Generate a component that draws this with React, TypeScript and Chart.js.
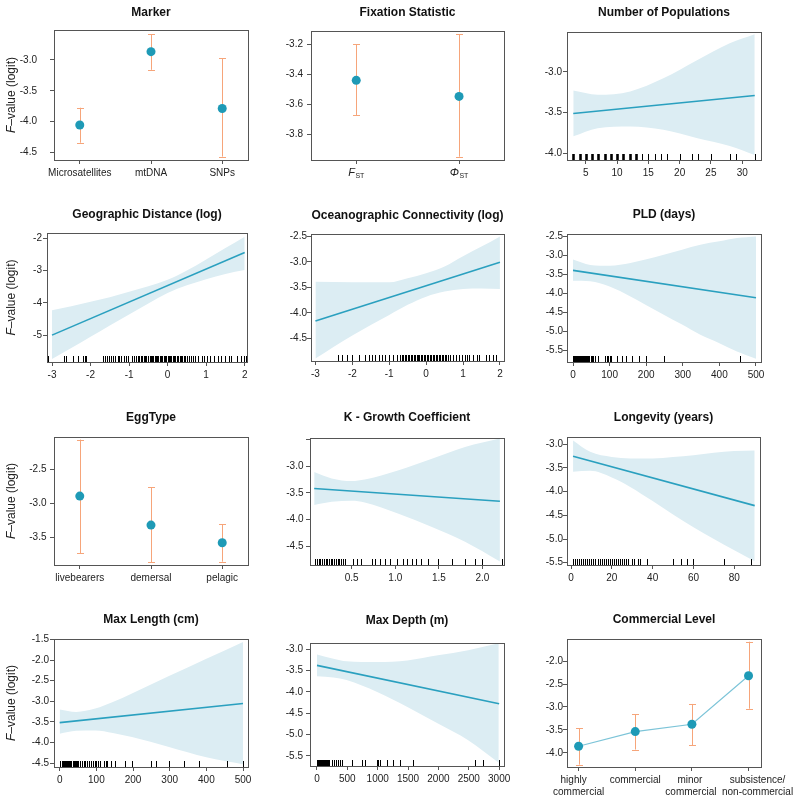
import React, { useEffect, useRef } from 'react';
import { Chart, registerables } from 'chart.js';

Chart.register(...registerables);

const FONT = '"Liberation Sans", Arial, Helvetica, sans-serif';
const BAND = '#dcedf3';
const LINE = '#2aa0bf';
const POINT = '#1e9ab6';
const CONNECT = '#7cc4d8';
const ERR = '#f6a57a';
const AXIS = '#555555';
const TEXT = '#222222';

// ---- Marker ----
const markerCats = ['Microsatellites', 'mtDNA', 'SNPs'];
const markerEst = [-4.053, -2.866, -3.786];
const markerLo = [-4.34, -3.16, -4.565];
const markerHi = [-3.773, -2.584, -2.97];

// ---- Fixation Statistic ----
const fixMain = ['F', 'Φ'];
const fixSub = ['ST', 'ST'];
const fixEst = [-3.44, -3.547];
const fixLo = [-3.673, -3.949];
const fixHi = [-3.2, -3.131];

// ---- Number of Populations ----
const popBandX = [3, 6.9, 12.1, 17.4, 22.7, 28, 32];
const popUpper = [-3.23, -3.28, -3.24, -3.08, -2.86, -2.65, -2.54];
const popLower = [-3.79, -3.69, -3.67, -3.71, -3.81, -3.91, -4.02];
const popLineX = [3, 32];
const popLineY = [-3.51, -3.29];
const popRug = [3, 3, 3, 4, 4, 4, 5, 5, 5, 6, 6, 6, 7, 7, 7, 8, 8, 8, 9, 9, 9, 10, 10, 10, 11, 11, 11, 12, 12, 12, 13, 13, 13, 14, 15, 16, 17, 18, 20, 22, 23, 25, 28, 29, 32];

// ---- Geographic Distance ----
const geoBandX = [-3, -2.5, -2, -1.5, -1, -0.5, 0, 0.5, 1, 1.5, 2];
const geoUpper = [-4.23, -4.11, -3.97, -3.83, -3.66, -3.49, -3.29, -3.0, -2.66, -2.31, -1.96];
const geoLower = [-5.74, -5.4, -5.05, -4.7, -4.36, -4.02, -3.7, -3.46, -3.27, -3.11, -2.99];
const geoLineX = [-3, 2];
const geoLineY = [-5.0, -2.45];
const geoRug = [-3.1, -2.7, -2.63, -2.46, -2.33, -2.19, -2.15, -2.12, -1.68, -1.62, -1.57, -1.52, -1.48, -1.43, -1.37, -1.3, -1.25, -1.2, -1.14, -1.08, -1.02, -0.92, -0.86, -0.82, -0.78, -0.74, -0.7, -0.66, -0.62, -0.58, -0.55, -0.51, -0.47, -0.44, -0.4, -0.37, -0.33, -0.3, -0.27, -0.24, -0.2, -0.17, -0.14, -0.1, -0.07, -0.04, 0, 0.03, 0.06, 0.1, 0.13, 0.17, 0.2, 0.24, 0.27, 0.31, 0.35, 0.38, 0.42, 0.46, 0.5, 0.55, 0.6, 0.66, 0.72, 0.8, 0.88, 0.95, 1.02, 1.1, 1.2, 1.3, 1.38, 1.5, 1.58, 1.65, 1.8, 1.9, 1.98, 2.03];

// ---- Oceanographic Connectivity ----
const ocBandX = [-3, -2, -1, -0.5, 0, 0.5, 1, 1.5, 2];
const ocUpper = [-3.39, -3.4, -3.4, -3.32, -3.22, -3.09, -2.89, -2.7, -2.5];
const ocLower = [-4.89, -4.44, -4.04, -3.84, -3.68, -3.58, -3.53, -3.52, -3.53];
const ocLineX = [-3, 2];
const ocLineY = [-4.157, -3.008];
const ocRug = [-2.39, -2.28, -2.15, -2.01, -1.83, -1.65, -1.56, -1.47, -1.38, -1.29, -1.2, -1.11, -1.0, -0.89, -0.8, -0.71, -0.66, -0.62, -0.58, -0.54, -0.5, -0.46, -0.42, -0.38, -0.34, -0.3, -0.26, -0.22, -0.18, -0.14, -0.1, -0.06, -0.02, 0.02, 0.06, 0.1, 0.14, 0.18, 0.22, 0.26, 0.3, 0.34, 0.38, 0.42, 0.46, 0.5, 0.54, 0.6, 0.66, 0.72, 0.8, 0.88, 0.96, 1.05, 1.12, 1.17, 1.26, 1.39, 1.44, 1.62, 1.71, 1.8, 1.9];

// ---- PLD ----
const pldBandX = [0, 47, 100, 157, 198, 248, 298, 348, 400, 448, 500];
const pldUpper = [-3.11, -3.25, -3.27, -3.2, -3.11, -2.98, -2.85, -2.72, -2.63, -2.54, -2.5];
const pldLower = [-3.67, -3.68, -3.82, -4.08, -4.3, -4.56, -4.82, -5.09, -5.31, -5.53, -5.72];
const pldLineX = [0, 500];
const pldLineY = [-3.395, -4.113];
const pldRug = [0, 1, 2, 3, 4, 5, 6, 7, 8, 10, 12, 14, 15, 17, 20, 21, 24, 25, 28, 30, 32, 35, 38, 40, 42, 45, 48, 52, 56, 60, 67, 88, 92, 95, 100, 105, 120, 135, 145, 160, 180, 200, 250, 455];

// ---- EggType ----
const eggCats = ['livebearers', 'demersal', 'pelagic'];
const eggEst = [-2.895, -3.32, -3.579];
const eggLo = [-3.734, -3.865, -3.856];
const eggHi = [-2.066, -2.768, -3.304];

// ---- K - Growth Coefficient ----
const kBandX = [0.07, 0.27, 0.5, 0.65, 1.03, 1.42, 1.8, 2.2];
const kUpper = [-3.11, -3.23, -3.28, -3.25, -3.08, -2.86, -2.64, -2.48];
const kLower = [-3.73, -3.67, -3.65, -3.68, -3.89, -4.14, -4.42, -4.79];
const kLineX = [0.07, 2.2];
const kLineY = [-3.418, -3.657];
const kRug = [0.08, 0.1, 0.12, 0.14, 0.16, 0.18, 0.2, 0.22, 0.24, 0.26, 0.28, 0.3, 0.32, 0.34, 0.36, 0.38, 0.4, 0.42, 0.51, 0.56, 0.61, 0.73, 0.77, 0.82, 0.88, 0.94, 1.02, 1.09, 1.13, 1.19, 1.24, 1.3, 1.38, 1.49, 1.65, 1.8, 1.91, 2.0, 2.22];

// ---- Longevity ----
const lonBandX = [1, 9.4, 20, 29, 40, 50, 60, 70, 80, 90];
const lonUpper = [-2.92, -3.16, -3.27, -3.3, -3.3, -3.27, -3.23, -3.18, -3.14, -3.13];
const lonLower = [-3.58, -3.56, -3.7, -3.9, -4.2, -4.48, -4.75, -5.0, -5.24, -5.47];
const lonLineX = [1, 90];
const lonLineY = [-3.253, -4.295];
const lonRug = [1, 2, 3, 4, 5, 6, 7, 8, 9, 10, 11, 12, 13, 14, 15, 16, 17, 18, 19, 20, 21, 22, 23, 24, 25, 26, 27, 28, 30, 31, 33, 34, 37, 50, 54, 57, 60, 75, 88];

// ---- Max Length ----
const mlBandX = [0, 45, 97, 145, 197, 298, 400, 500];
const mlUpper = [-3.2, -3.26, -3.18, -3.02, -2.81, -2.39, -1.97, -1.56];
const mlLower = [-3.79, -3.72, -3.71, -3.77, -3.87, -4.11, -4.36, -4.53];
const mlLineX = [0, 500];
const mlLineY = [-3.52, -3.057];
const mlRug = [2, 5, 8, 10, 12, 15, 18, 20, 22, 25, 28, 30, 32, 35, 38, 40, 42, 45, 48, 50, 55, 60, 65, 70, 75, 80, 85, 90, 95, 100, 105, 110, 120, 125, 130, 140, 150, 177, 197, 248, 264, 298, 339, 380, 457, 500];

// ---- Max Depth ----
const mdBandX = [0, 271, 487, 991, 1489, 1992, 2490, 2994];
const mdUpper = [-3.12, -3.22, -3.28, -3.3, -3.26, -3.14, -3.02, -2.86];
const mdLower = [-3.63, -3.66, -3.72, -4.0, -4.35, -4.74, -5.13, -5.66];
const mdLineX = [0, 3000];
const mdLineY = [-3.376, -4.275];
const mdRug = [0, 10, 20, 30, 40, 50, 60, 70, 80, 90, 100, 110, 120, 130, 140, 150, 160, 180, 200, 241, 274, 318, 351, 384, 420, 581, 735, 789, 982, 1000, 1036, 1146, 1255, 1365, 1584, 2599, 2735, 2999];

// ---- Commercial Level ----
const comCats: string[][] = [['highly', 'commercial'], ['commercial'], ['minor', 'commercial'], ['subsistence/', 'non-commercial']];
const comEst = [-3.854, -3.536, -3.376, -2.32];
const comLo = [-4.254, -3.926, -3.83, -3.037];
const comHi = [-3.463, -3.153, -2.934, -1.579];
// horizontal shift of each label line (px), as placed in the original figure
const comLabelShift = [[-5, 0], [0], [-2, -1], [9, 9]];

type Spec = {
  title: string;
  box: [number, number, number, number];
  titleY: number;
  col0?: boolean;
  padR?: number;
  yMin: number; yMax: number; yTicks: number[]; yDec: number; yPad: number; yNoLabel?: number[];
  xMin: number; xMax: number; xTicks: number[]; xDec?: number; xLabels?: string[];
  fixLabels?: boolean;
  multiLabels?: { lines: string[][]; shift: number[][] };
  band?: { x: number[]; hi: number[]; lo: number[] };
  line?: { x: number[]; y: number[] };
  rug?: number[];
  points?: { est: number[]; lo: number[]; hi: number[] };
  connect?: boolean;
};

const specs: Spec[] = [
  { title: 'Marker', box: [54, 30, 248, 160], titleY: 13, col0: true,
    yMin: -4.62, yMax: -2.515, yTicks: [-4.5, -4, -3.5, -3], yDec: 1, yPad: 13,
    xMin: 0.638, xMax: 3.362, xTicks: [1, 2, 3], xLabels: markerCats,
    points: { est: markerEst, lo: markerLo, hi: markerHi } },
  { title: 'Fixation Statistic', box: [311, 31, 504, 160], titleY: 13,
    yMin: -3.971, yMax: -3.111, yTicks: [-3.8, -3.6, -3.4, -3.2], yDec: 1, yPad: 4,
    xMin: 0.56, xMax: 2.437, xTicks: [1, 2], fixLabels: true,
    points: { est: fixEst, lo: fixLo, hi: fixHi } },
  { title: 'Number of Populations', box: [567, 32, 761, 160], titleY: 13,
    yMin: -4.08, yMax: -2.512, yTicks: [-4, -3.5, -3], yDec: 1, yPad: 1,
    xMin: 2.0, xMax: 33.0, xTicks: [5, 10, 15, 20, 25, 30], xDec: 0,
    band: { x: popBandX, hi: popUpper, lo: popLower }, line: { x: popLineX, y: popLineY }, rug: popRug },
  { title: 'Geographic Distance (log)', box: [47, 233, 247, 362], titleY: 215, col0: true,
    yMin: -5.83, yMax: -1.845, yTicks: [-5, -4, -3, -2], yDec: 0, yPad: 1,
    xMin: -3.13, xMax: 2.06, xTicks: [-3, -2, -1, 0, 1, 2], xDec: 0,
    band: { x: geoBandX, hi: geoUpper, lo: geoLower }, line: { x: geoLineX, y: geoLineY }, rug: geoRug },
  { title: 'Oceanographic Connectivity (log)', box: [311, 234, 504, 361], titleY: 216,
    yMin: -4.94, yMax: -2.453, yTicks: [-4.5, -4, -3.5, -3, -2.5], yDec: 1, yPad: 0,
    xMin: -3.12, xMax: 2.11, xTicks: [-3, -2, -1, 0, 1, 2], xDec: 0,
    band: { x: ocBandX, hi: ocUpper, lo: ocLower }, line: { x: ocLineX, y: ocLineY }, rug: ocRug },
  { title: 'PLD (days)', box: [567, 234, 761, 362], titleY: 215,
    yMin: -5.805, yMax: -2.437, yTicks: [-5.5, -5, -4.5, -4, -3.5, -3, -2.5], yDec: 1, yPad: 0,
    xMin: -16.4, xMax: 513.7, xTicks: [0, 100, 200, 300, 400, 500], xDec: 0,
    band: { x: pldBandX, hi: pldUpper, lo: pldLower }, line: { x: pldLineX, y: pldLineY }, rug: pldRug },
  { title: 'EggType', box: [54, 437, 248, 565], titleY: 418, col0: true,
    yMin: -3.905, yMax: -2.028, yTicks: [-3.5, -3, -2.5], yDec: 1, yPad: 3.5,
    xMin: 0.638, xMax: 3.362, xTicks: [1, 2, 3], xLabels: eggCats,
    points: { est: eggEst, lo: eggLo, hi: eggHi } },
  { title: 'K - Growth Coefficient', box: [310, 438, 504, 565], titleY: 418,
    yMin: -4.856, yMax: -2.47, yTicks: [-4.5, -4, -3.5, -3, -2.5], yNoLabel: [-2.5], yDec: 1, yPad: 2.5,
    xMin: 0.022, xMax: 2.247, xTicks: [0.5, 1, 1.5, 2], xDec: 1,
    band: { x: kBandX, hi: kUpper, lo: kLower }, line: { x: kLineX, y: kLineY }, rug: kRug },
  { title: 'Longevity (years)', box: [567, 437, 760, 565], titleY: 418,
    yMin: -5.549, yMax: -2.846, yTicks: [-5.5, -5, -4.5, -4, -3.5, -3], yDec: 1, yPad: 0,
    xMin: -1.96, xMax: 92.6, xTicks: [0, 20, 40, 60, 80], xDec: 0,
    band: { x: lonBandX, hi: lonUpper, lo: lonLower }, line: { x: lonLineX, y: lonLineY }, rug: lonRug },
  { title: 'Max Length (cm)', box: [54, 639, 248, 767], titleY: 620, col0: true,
    yMin: -4.597, yMax: -1.49, yTicks: [-4.5, -4, -3.5, -3, -2.5, -2, -1.5], yDec: 1, yPad: 1,
    xMin: -15.5, xMax: 513.6, xTicks: [0, 100, 200, 300, 400, 500], xDec: 0,
    band: { x: mlBandX, hi: mlUpper, lo: mlLower }, line: { x: mlLineX, y: mlLineY }, rug: mlRug },
  { title: 'Max Depth (m)', box: [310, 643, 504, 766], titleY: 621,
    yMin: -5.735, yMax: -2.852, yTicks: [-5.5, -5, -4.5, -4, -3.5, -3], yDec: 1, yPad: 3,
    xMin: -115, xMax: 3080, xTicks: [0, 500, 1000, 1500, 2000, 2500, 3000], xDec: 0,
    band: { x: mdBandX, hi: mdUpper, lo: mdLower }, line: { x: mdLineX, y: mdLineY }, rug: mdRug },
  { title: 'Commercial Level', box: [567, 639, 761, 767], titleY: 620, padR: 38,
    yMin: -4.306, yMax: -1.52, yTicks: [-4, -3.5, -3, -2.5, -2], yDec: 1, yPad: 0,
    xMin: 0.795, xMax: 4.22, xTicks: [1, 2, 3, 4],
    multiLabels: { lines: comCats, shift: comLabelShift },
    points: { est: comEst, lo: comLo, hi: comHi }, connect: true },
];

function pts(xs: number[], ys: number[]) {
  return xs.map((x, i) => ({ x, y: ys[i] }));
}

function makePlugin(p: Spec) {
  return {
    id: 'decor',
    beforeDatasetsDraw(chart: any) {
      if (!p.points) return;
      const { ctx, scales } = chart;
      const xs = scales.x, ys = scales.y;
      ctx.save();
      ctx.strokeStyle = ERR;
      ctx.lineWidth = 1;
      p.points.est.forEach((_, i) => {
        const x = Math.round(xs.getPixelForValue(i + 1)) + 0.5;
        const yl = ys.getPixelForValue(p.points!.lo[i]);
        const yh = ys.getPixelForValue(p.points!.hi[i]);
        ctx.beginPath();
        ctx.moveTo(x, yl); ctx.lineTo(x, yh);
        ctx.moveTo(x - 3.5, Math.round(yl) + 0.5); ctx.lineTo(x + 3.5, Math.round(yl) + 0.5);
        ctx.moveTo(x - 3.5, Math.round(yh) + 0.5); ctx.lineTo(x + 3.5, Math.round(yh) + 0.5);
        ctx.stroke();
      });
      ctx.restore();
    },
    afterDatasetsDraw(chart: any) {
      if (!p.rug) return;
      const { ctx, scales, chartArea } = chart;
      const counts = new Map<number, number>();
      p.rug.forEach((v) => counts.set(v, (counts.get(v) || 0) + 1));
      ctx.save();
      ctx.strokeStyle = '#000';
      counts.forEach((n, v) => {
        const x = Math.round(scales.x.getPixelForValue(v)) + 0.5;
        if (x < chartArea.left || x > chartArea.right) return;
        ctx.lineWidth = Math.min(1 + (n - 1) * 0.8, 2.6);
        ctx.beginPath();
        ctx.moveTo(x, chartArea.bottom);
        ctx.lineTo(x, chartArea.bottom - 6);
        ctx.stroke();
      });
      ctx.restore();
    },
    afterDraw(chart: any) {
      const { ctx, chartArea, scales } = chart;
      ctx.save();
      ctx.strokeStyle = AXIS;
      ctx.lineWidth = 1;
      ctx.strokeRect(Math.round(chartArea.left) + 0.5, Math.round(chartArea.top) + 0.5,
        Math.round(chartArea.right - chartArea.left), Math.round(chartArea.bottom - chartArea.top));
      ctx.fillStyle = TEXT;
      if (p.col0) {
        const cy = (chartArea.top + chartArea.bottom) / 2;
        ctx.translate(12, cy);
        ctx.rotate(-Math.PI / 2);
        ctx.textBaseline = 'middle';
        ctx.textAlign = 'left';
        const f1 = `italic 12px ${FONT}`;
        const f2 = `12px ${FONT}`;
        ctx.font = f1; const w1 = ctx.measureText('F').width;
        ctx.font = f2; const w2 = ctx.measureText('–value (logit)').width;
        const x0 = -(w1 + w2) / 2;
        ctx.font = f1; ctx.fillText('F', x0, 0);
        ctx.font = f2; ctx.fillText('–value (logit)', x0 + w1, 0);
        ctx.setTransform(1, 0, 0, 1, 0, 0);
      }
      if (p.fixLabels) {
        ctx.textBaseline = 'middle';
        ctx.textAlign = 'left';
        p.xTicks.forEach((v, i) => {
          const px = scales.x.getPixelForValue(v);
          const y = chartArea.bottom + 13;
          const fm = `italic 11px ${FONT}`;
          const fs = `7px ${FONT}`;
          ctx.font = fm; const wm = ctx.measureText(fixMain[i]).width;
          ctx.font = fs; const ws = ctx.measureText(fixSub[i]).width;
          const x0 = px - (wm + ws + 0.5) / 2;
          ctx.font = fm; ctx.fillText(fixMain[i], x0, y);
          ctx.font = fs; ctx.fillText(fixSub[i], x0 + wm + 0.5, y + 3);
        });
      }
      if (p.multiLabels) {
        ctx.textBaseline = 'middle';
        ctx.textAlign = 'center';
        ctx.font = `10px ${FONT}`;
        p.xTicks.forEach((v, i) => {
          const px = scales.x.getPixelForValue(v);
          p.multiLabels!.lines[i].forEach((s, j) => {
            ctx.fillText(s, px + (p.multiLabels!.shift[i][j] || 0), chartArea.bottom + 13 + j * 12.7);
          });
        });
      }
      ctx.restore();
    },
  };
}

function buildConfig(p: Spec, left: number, top: number, padR: number): any {
  const datasets: any[] = [];
  if (p.band) {
    datasets.push({ data: pts(p.band.x, p.band.hi), borderWidth: 0, borderColor: 'rgba(0,0,0,0)', pointRadius: 0, fill: false, cubicInterpolationMode: 'monotone', order: 5 });
    datasets.push({ data: pts(p.band.x, p.band.lo), borderWidth: 0, borderColor: 'rgba(0,0,0,0)', pointRadius: 0, fill: '-1', backgroundColor: BAND, cubicInterpolationMode: 'monotone', order: 5 });
  }
  if (p.line) {
    datasets.push({ data: pts(p.line.x, p.line.y), borderColor: LINE, borderWidth: 1.6, pointRadius: 0, fill: false, order: 0 });
  }
  if (p.points) {
    datasets.push({
      data: p.points.est.map((y, i) => ({ x: i + 1, y })),
      showLine: !!p.connect, borderColor: CONNECT, borderWidth: 1.2,
      pointRadius: 4.5, pointBackgroundColor: POINT, pointBorderColor: POINT, pointBorderWidth: 0,
      fill: false, order: 0,
    });
  }
  return {
    type: 'line',
    data: { datasets },
    plugins: [makePlugin(p)],
    options: {
      responsive: false,
      animation: false,
      devicePixelRatio: 1,
      events: [],
      layout: { padding: { left: 0, top: 0, right: padR, bottom: 0 } },
      plugins: {
        legend: { display: false },
        tooltip: { enabled: false },
        title: {
          display: true, text: p.title, fullSize: false, color: '#111',
          font: { size: 12, weight: 'bold', family: FONT, lineHeight: 1.2 },
          padding: { top: 2.8, bottom: p.box[1] - p.titleY - 7.2 },
        },
      },
      scales: {
        x: {
          type: 'linear', min: p.xMin, max: p.xMax,
          afterBuildTicks: (s: any) => { s.ticks = p.xTicks.map((v) => ({ value: v })); },
          afterFit: (s: any) => { s.height = 40; },
          ticks: {
            autoSkip: false, maxRotation: 0, minRotation: 0, padding: 3, color: TEXT,
            font: { size: 10, family: FONT, lineHeight: 1.2 },
            callback: (v: number) => {
              if (p.fixLabels || p.multiLabels) return '';
              if (p.xLabels) return p.xLabels[Math.round(v) - 1] ?? '';
              return Number(v).toFixed(p.xDec ?? 0);
            },
          },
          grid: { display: true, drawOnChartArea: false, drawTicks: true, tickLength: 4, color: AXIS, lineWidth: 1 },
          border: { display: false },
        },
        y: {
          type: 'linear', min: p.yMin, max: p.yMax,
          afterBuildTicks: (s: any) => { s.ticks = p.yTicks.map((v) => ({ value: v })); },
          afterFit: (s: any) => { s.width = p.box[0] - left; },
          ticks: {
            autoSkip: false, padding: p.yPad, color: TEXT,
            font: { size: 10, family: FONT },
            callback: (v: number) => (p.yNoLabel && p.yNoLabel.includes(v) ? '' : Number(v).toFixed(p.yDec)),
          },
          grid: { display: true, drawOnChartArea: false, drawTicks: true, tickLength: 4, color: AXIS, lineWidth: 1 },
          border: { display: false },
        },
      },
    },
  };
}

function Panel({ p }: { p: Spec }) {
  const ref = useRef<HTMLCanvasElement>(null);
  const left = p.col0 ? 0 : p.box[0] - 46;
  const top = p.titleY - 10;
  const padR = p.padR ?? 30;
  const width = p.box[2] + padR - left;
  const height = p.box[3] + 40 - top;
  useEffect(() => {
    if (!ref.current) return;
    const chart = new Chart(ref.current, buildConfig(p, left, top, padR));
    return () => chart.destroy();
  }, []);
  return (
    <canvas
      ref={ref}
      width={width}
      height={height}
      style={{ position: 'absolute', left, top, width, height, display: 'block' }}
    />
  );
}

export default function App() {
  return (
    <div style={{ position: 'absolute', left: 0, top: 0, width: 800, height: 804, overflow: 'hidden', background: '#fff' }}>
      {specs.map((p, i) => (
        <Panel key={i} p={p} />
      ))}
    </div>
  );
}
